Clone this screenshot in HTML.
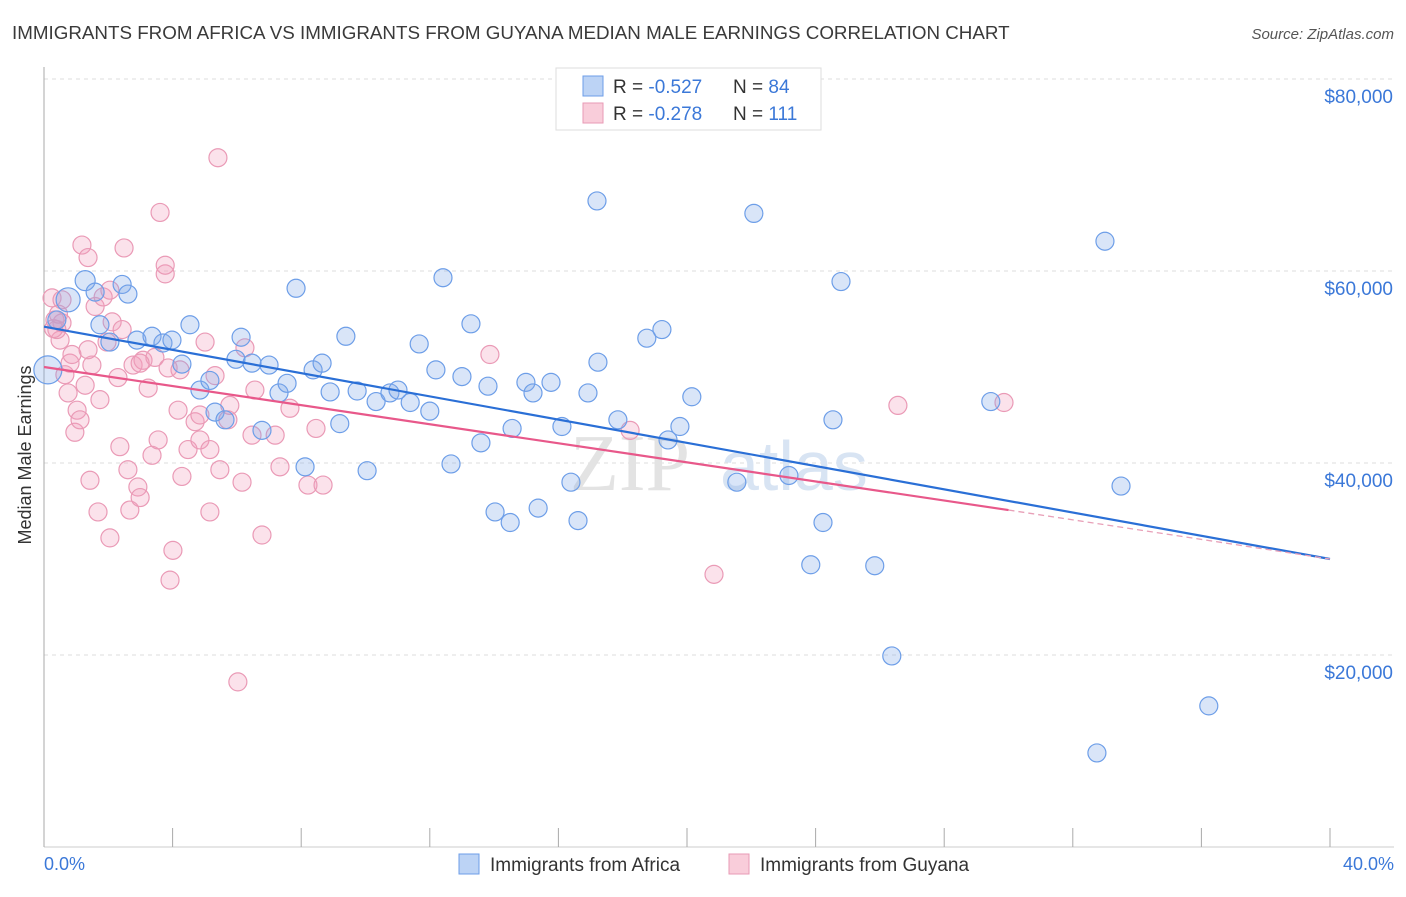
<!DOCTYPE html>
<html><head><meta charset="utf-8"><style>
body{margin:0;background:#fff;font-family:"Liberation Sans",sans-serif}
</style></head><body>
<svg id="chart" width="1406" height="892" xmlns="http://www.w3.org/2000/svg">
<text x="12" y="39" font-size="18.8" fill="#3a3a3a">IMMIGRANTS FROM AFRICA VS IMMIGRANTS FROM GUYANA MEDIAN MALE EARNINGS CORRELATION CHART</text>
<text x="1394" y="39" font-size="15" fill="#555" text-anchor="end" font-style="italic">Source: ZipAtlas.com</text>
<g id="grid"></g>
<text x="690" y="490" font-size="80" fill="#e3e3e3" text-anchor="end" font-family="Liberation Serif">ZIP</text>
<text x="720" y="490" font-size="70" fill="#d8e4f3">atlas</text>
<line x1="44" y1="67" x2="44" y2="847" stroke="#aaa"/>
<line x1="44" y1="847" x2="1394" y2="847" stroke="#ccc"/>
<g id="xt"></g>
<g id="pts"></g>
<g id="trend"></g>
<text x="31" y="455" font-size="18" fill="#333" text-anchor="middle" transform="rotate(-90 31 455)">Median Male Earnings</text>
<text x="44" y="870" font-size="18" fill="#3b78d8">0.0%</text>
<text x="1394" y="870" font-size="18" fill="#3b78d8" text-anchor="end">40.0%</text>
<g>
<rect x="556" y="68" width="265" height="62" fill="#fff" stroke="#ddd"/>
<rect x="583" y="76" width="20" height="20" fill="#bcd3f5" stroke="#6d9ee8"/>
<rect x="583" y="103" width="20" height="20" fill="#f9cdda" stroke="#e89ab5"/>
<text x="613" y="93" font-size="19" fill="#333">R = <tspan fill="#3b78d8">-0.527</tspan></text>
<text x="733" y="93" font-size="19" fill="#333">N = <tspan fill="#3b78d8">84</tspan></text>
<text x="613" y="120" font-size="19" fill="#333">R = <tspan fill="#3b78d8">-0.278</tspan></text>
<text x="733" y="120" font-size="19" fill="#333">N = <tspan fill="#3b78d8">111</tspan></text>
</g>
<g>
<rect x="459" y="854" width="20" height="20" fill="#bcd3f5" stroke="#6d9ee8"/>
<text x="490" y="871" font-size="19" fill="#333">Immigrants from Africa</text>
<rect x="729" y="854" width="20" height="20" fill="#f9cdda" stroke="#e89ab5"/>
<text x="760" y="871" font-size="19" fill="#333">Immigrants from Guyana</text>
</g>
</svg>
<script>
const yTicks=[20000,40000,60000,80000];
const yTickLabels=["$20,000","$40,000","$60,000","$80,000"];
const xTicks=[0,4,8,12,16,20,24,28,32,36,40];
const africaX=[0.12,0.4,0.75,1.28,1.59,1.74,2.05,2.43,2.61,2.89,3.36,3.7,3.98,4.29,4.54,4.85,5.16,5.32,5.63,5.97,6.13,6.47,6.78,7.0,7.31,7.56,7.84,8.12,8.37,8.65,8.9,9.2,9.39,9.74,10.05,10.33,10.76,11.01,11.39,11.67,12.0,12.19,12.41,12.66,13.0,13.28,13.59,13.81,14.03,14.5,14.56,14.99,15.21,15.37,15.77,16.11,16.39,16.61,16.92,17.2,17.23,17.85,18.75,19.22,19.41,19.78,20.15,21.55,22.08,23.17,23.85,24.23,24.54,24.79,25.84,26.37,29.45,32.75,33.0,33.5,36.23];
const africaY=[49700,54900,57000,59000,57800,54400,52600,58600,57600,52800,53200,52500,52800,50300,54400,47600,48600,45300,44500,50800,53100,50400,43400,50200,47300,48300,58200,39600,49700,50400,47400,44100,53200,47500,39200,46400,47300,47600,46300,52400,45400,49700,59300,39900,49000,54500,42100,48000,34900,33800,43600,48400,47300,35300,48400,43800,38000,34000,47300,67300,50500,44500,53000,53900,42400,43800,46900,38000,66000,38700,29400,33800,44500,58900,29300,19900,46400,9800,63100,37600,14700];
const africaR=[14,9,12,10,9,9,9,9,9,9,9,9,9,9,9,9,9,9,9,9,9,9,9,9,9,9,9,9,9,9,9,9,9,9,9,9,9,9,9,9,9,9,9,9,9,9,9,9,9,9,9,9,9,9,9,9,9,9,9,9,9,9,9,9,9,9,9,9,9,9,9,9,9,9,9,9,9,9,9,9,9];
const guyanaX=[0.25,0.34,0.5,0.56,0.65,0.75,0.81,0.87,0.96,1.03,1.12,1.18,1.28,1.37,1.43,1.49,1.59,1.68,1.74,1.84,1.96,2.05,2.12,2.3,2.36,2.49,2.61,2.67,2.77,2.92,2.99,3.08,3.24,3.36,3.45,3.55,3.61,3.77,3.86,3.92,4.01,4.17,4.29,4.48,4.7,4.85,5.01,5.16,5.32,5.41,5.47,5.72,6.03,6.16,6.25,6.47,6.78,7.19,7.34,7.65,8.21,8.46,8.68,13.87,18.23,20.84,26.56,29.86,0.4,0.56,1.37,2.05,2.43,2.99,3.77,4.23,4.85,5.16,5.78,6.56,0.3,0.45];
const guyanaY=[57200,54900,52800,54600,49200,47300,50400,51300,43200,45500,44500,62700,48100,61400,38200,50200,56300,34900,46600,57300,52600,32200,54700,48900,41700,62400,39300,35100,50200,37500,36400,50700,47800,40800,51000,42400,66100,59700,49900,27800,30900,45500,38600,41400,44300,42400,52600,34900,49100,71800,39300,44500,17200,38000,52000,42900,32500,42900,39600,45700,37700,43600,37700,51300,43400,28400,46000,46300,53900,57000,51800,58000,53900,50400,60600,49700,45000,41400,46000,47600,54000,55500];
const africaTrend=[[0,54200],[40,30000]];
const guyanaTrend=[[0,50000],[30.0,35100],[40,30000]];
const NS="http://www.w3.org/2000/svg";
const X=v=>44+v/40*1286, Y=v=>847-v/20000*192;
function mk(t,a,p){const e=document.createElementNS(NS,t);for(const k in a)e.setAttribute(k,a[k]);p.appendChild(e);return e;}
const grid=document.getElementById('grid');
yTicks.forEach((t,i)=>{
 const l=mk('line',{x1:44,x2:1394,y1:Y(t),y2:Y(t),stroke:'#ddd','stroke-dasharray':'4,4'},grid);
 
 
 const tx=mk('text',{x:1393,y:Y(t)+24,'font-size':19,fill:'#3b78d8','text-anchor':'end'},grid);
 tx.textContent=yTickLabels[i];
 
 
});
const xt=document.getElementById('xt');
xTicks.forEach(t=>{
 const l=mk('line',{x1:X(t),x2:X(t),y1:828,y2:847,stroke:'#aaa'},xt);
 
 
});
const pts=document.getElementById('pts');
guyanaX.forEach((x,i)=>{
 const c=mk('circle',{cx:X(x),cy:Y(guyanaY[i]),r:9,fill:'rgba(243,160,188,0.3)',stroke:'#ea9ab6','stroke-width':1.2},pts);
 
 
});
africaX.forEach((x,i)=>{
 const c=mk('circle',{cx:X(x),cy:Y(africaY[i]),r:africaR[i]||9,fill:'rgba(130,170,232,0.3)',stroke:'#6d9ee8','stroke-width':1.2},pts);
 
 
});
const tr=document.getElementById('trend');
const a=mk('line',{x1:X(africaTrend[0][0]),y1:Y(africaTrend[0][1]),x2:X(africaTrend[1][0]),y2:Y(africaTrend[1][1]),stroke:'#2a6fd6','stroke-width':2.2},tr);


const g1=mk('line',{x1:X(guyanaTrend[0][0]),y1:Y(guyanaTrend[0][1]),x2:X(guyanaTrend[1][0]),y2:Y(guyanaTrend[1][1]),stroke:'#e8588a','stroke-width':2.2},tr);


const g2=mk('line',{x1:X(guyanaTrend[1][0]),y1:Y(guyanaTrend[1][1]),x2:X(guyanaTrend[2][0]),y2:Y(guyanaTrend[2][1]),stroke:'#e8a0b8','stroke-width':1.3,'stroke-dasharray':'6,4'},tr);


</script>
</body></html>
